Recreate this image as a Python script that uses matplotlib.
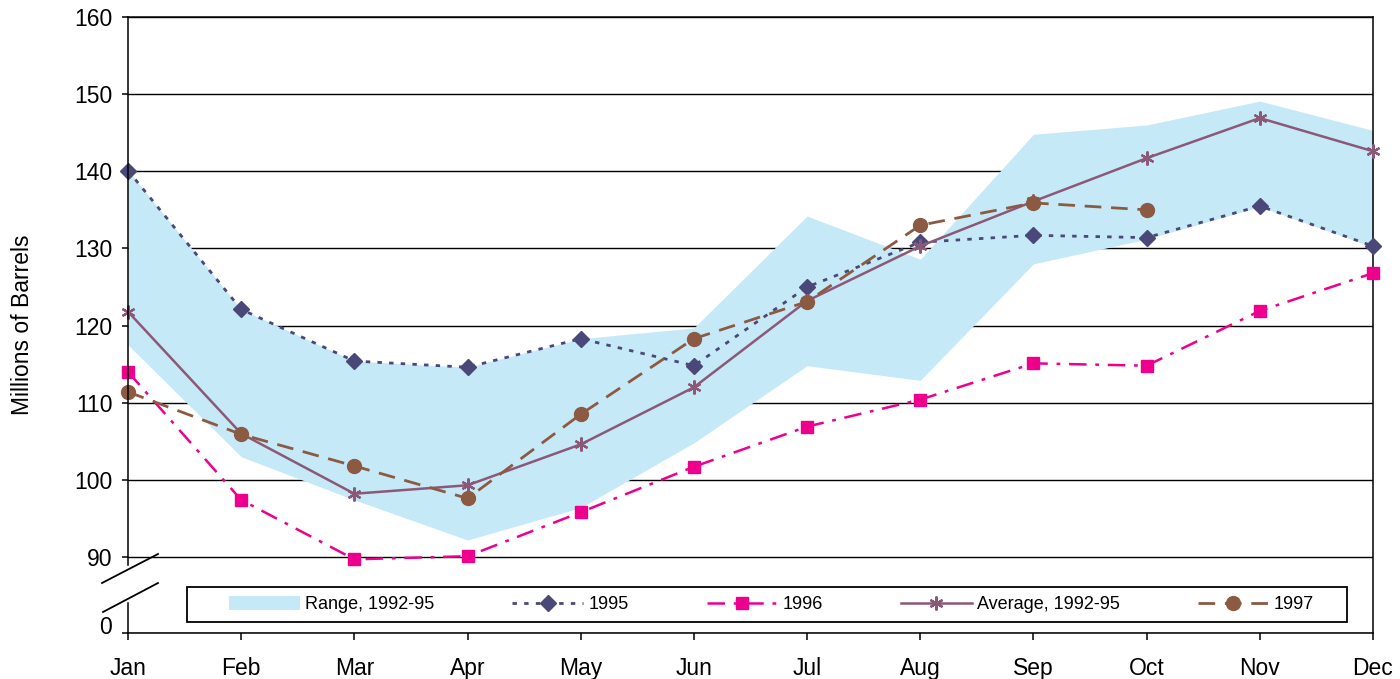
import matplotlib
matplotlib.use("Agg")
import matplotlib.pyplot as plt
from matplotlib.lines import Line2D
from matplotlib.patches import Rectangle
from matplotlib.transforms import ScaledTranslation
import numpy as np

plt.rcParams['font.family'] = ['Liberation Sans', 'DejaVu Sans']

months = ['Jan', 'Feb', 'Mar', 'Apr', 'May', 'Jun', 'Jul', 'Aug', 'Sep', 'Oct', 'Nov', 'Dec']
range_low = [117.5, 103.0, 97.4, 92.2, 96.4, 104.8, 114.8, 112.9, 128.0, 131.2, 135.4, 130.2]
range_high = [140.1, 122.1, 115.4, 114.6, 118.3, 119.7, 134.2, 128.6, 144.8, 146.0, 149.1, 145.3]
y1995 = [140.1, 122.1, 115.4, 114.6, 118.3, 114.8, 125.0, 130.8, 131.7, 131.4, 135.5, 130.3]
y1996 = [114.0, 97.4, 89.7, 90.1, 95.8, 101.7, 106.9, 110.4, 115.1, 114.8, 121.9, 126.8]
avg = [121.8, 106.0, 98.2, 99.3, 104.6, 112.0, 123.2, 130.3, 136.1, 141.7, 146.9, 142.6]
y1997 = [111.4, 105.9, 101.8, 97.6, 108.5, 118.3, 123.1, 133.0, 135.9, 135.0]
ytick_vals = [90, 100, 110, 120, 130, 140, 150, 160]

W, H = 1400, 679
fig = plt.figure(figsize=(W / 100, H / 100), dpi=100)
ax = fig.add_axes([128 / W, (H - 633) / H, 1245 / W, 616 / H])

x = np.arange(len(months))
x97 = np.arange(len(y1997))

c_fill = '#c6e9f8'
c95 = '#4a4878'
c96 = '#ec008c'
cavg = '#8c5877'
c97 = '#8c5a42'

ax.set_axisbelow(True)
ax.yaxis.grid(True, color='black', linewidth=1.0)
ax.fill_between(x, range_low, range_high, color=c_fill, linewidth=0, zorder=1,
                label='Range, 1992-95')

l95, = ax.plot(x, y1995, color=c95, linestyle=(0, (1.6, 2.6)), linewidth=2.0,
               marker='D', markersize=8.5, label='1995', clip_on=False, zorder=3)
l96, = ax.plot(x, y1996, color=c96, linestyle=(0, (7, 3.5, 1.5, 3.5)), linewidth=1.8,
               marker='s', markersize=8.5, label='1996', clip_on=False, zorder=3)
lavg, = ax.plot(x, avg, color=cavg, linestyle='-', linewidth=1.8,
                marker=(6, 2, 0), markersize=10, markeredgewidth=1.6,
                label='Average, 1992-95', clip_on=False, zorder=3)
l97, = ax.plot(x97, y1997, color=c97, linestyle=(0, (6, 3.5)), linewidth=2.0,
               marker='o', markersize=10, label='1997', clip_on=False, zorder=3)

ylow = 90 - (633 - 557) / (540 / 70)
ax.set_xlim(0, len(months) - 1)
ax.set_ylim(ylow, 160)

ax.set_xticks(x)
ax.set_xticklabels(months)
ax.set_yticks([ylow] + ytick_vals)
ax.set_yticklabels(['0'] + [str(v) for v in ytick_vals])
ax.tick_params(axis='x', direction='out', length=5, width=1.1, pad=12, labelsize=16.5)
ax.tick_params(axis='y', direction='out', length=4.3, width=1.1, pad=7, labelsize=16.5)
lab0 = ax.get_yticklabels()[0]
lab0.set_transform(lab0.get_transform() + ScaledTranslation(0, 8 / 100, fig.dpi_scale_trans))

for s in ['top', 'right', 'bottom']:
    ax.spines[s].set_linewidth(1.1)
    ax.spines[s].set_color('black')
ax.spines['left'].set_visible(False)

# broken left axis
def px2ax(px, py):
    return (px - 128) / 1245, (633 - py) / 616

for (a, b) in [((128, 17), (128, 565)), ((128, 603), (128, 633))]:
    (xa, ya), (xb, yb) = px2ax(*a), px2ax(*b)
    ax.add_line(Line2D([xa, xb], [ya, yb], transform=ax.transAxes, color='black',
                       linewidth=1.1, clip_on=False, zorder=5))
for (a, b) in [((102, 583), (158, 554)), ((103, 612), (158, 583))]:
    (xa, ya), (xb, yb) = px2ax(*a), px2ax(*b)
    ax.add_line(Line2D([xa, xb], [ya, yb], transform=ax.transAxes, color='black',
                       linewidth=1.3, clip_on=False, zorder=5))

# legend frame
(fx0, fy0) = px2ax(187, 622)
(fx1, fy1) = px2ax(1347, 587)
ax.add_patch(Rectangle((fx0, fy0), fx1 - fx0, fy1 - fy0, transform=ax.transAxes,
                       facecolor='white', edgecolor='black', linewidth=1.3, zorder=6))

lx, ly = px2ax(229, 604.5)
leg = ax.legend(loc='center left', bbox_to_anchor=(lx, ly), ncol=5, frameon=False,
                fontsize=13, handlelength=3.93, handletextpad=0.28, columnspacing=4.32,
                handleheight=0.8, borderpad=0, borderaxespad=0, numpoints=1)
leg.set_zorder(7)

ax.set_ylabel('Millions of Barrels', fontsize=16.5)
ax.yaxis.set_label_coords((34 - 128) / 1245, 0.5)

fig.savefig('out.png', dpi=100)
